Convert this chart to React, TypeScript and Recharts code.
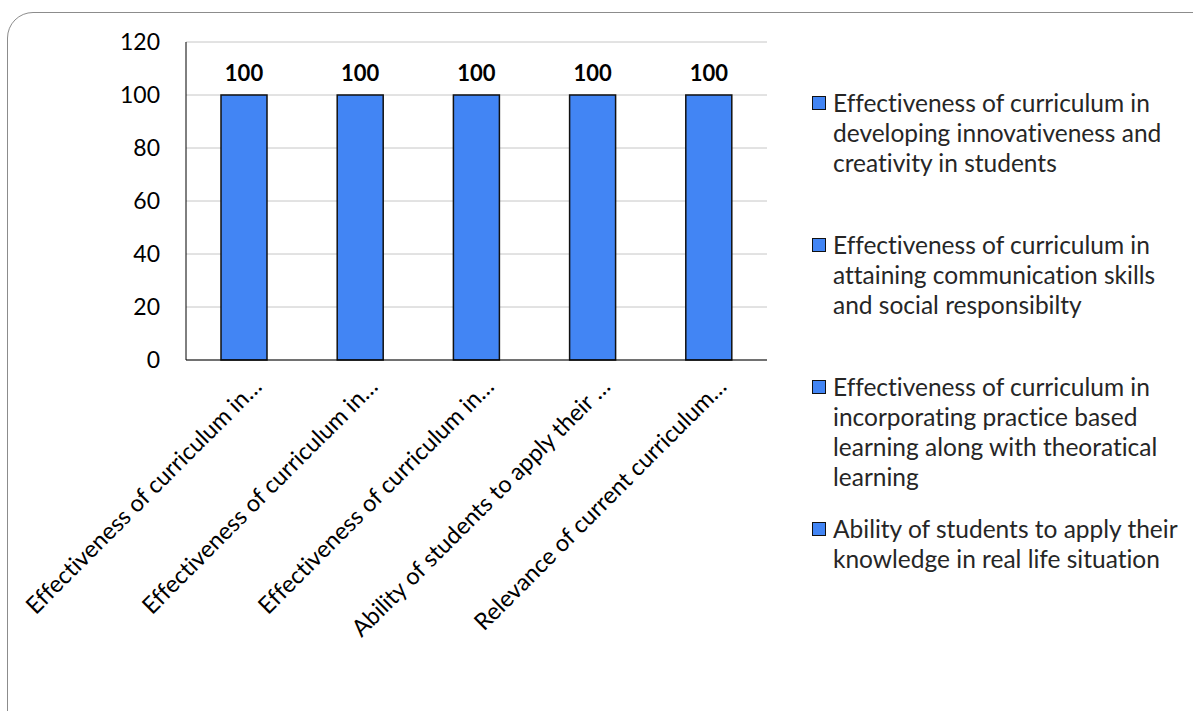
import { Bar, BarChart, CartesianGrid, LabelList, Legend, XAxis, YAxis } from "recharts";

const categories = [
  "Effectiveness of curriculum in developing innovativeness and creativity in students",
  "Effectiveness of curriculum in attaining communication skills and social responsibilty",
  "Effectiveness of curriculum in incorporating practice based learning along with theoratical learning",
  "Ability of students to apply their knowledge in real life situation",
  "Relevance of current curriculum",
];
const tickLabels = [
  "Effectiveness of curriculum in…",
  "Effectiveness of curriculum in…",
  "Effectiveness of curriculum in…",
  "Ability of students to apply their …",
  "Relevance of current curriculum…",
];
const values = [100, 100, 100, 100, 100];
const yTicks = [0, 20, 40, 60, 80, 100, 120];

// only the first four legend entries fit in the frame
const legendItems = categories.slice(0, 4);

const data = categories.map((name, i) => ({ name, label: tickLabels[i], value: values[i] }));

const FONT = "Lato, 'Open Sans', sans-serif";
const BLUE = "#4285F4";

function AngledTick(props: any) {
  const { x, y, payload } = props;
  const ax = x + 19;
  const ay = y + 20;
  return (
    <text
      x={ax}
      y={ay}
      transform={`rotate(-45, ${ax}, ${ay})`}
      textAnchor="end"
      fontFamily={FONT}
      fontSize={23.5}
      fill="#000"
      style={{ fontVariantLigatures: "none" }}
    >
      {tickLabels[payload.index] ?? payload.value}
    </text>
  );
}

function LegendBox() {
  return (
    <div
      style={{
        fontFamily: FONT,
        fontSize: 24.5,
        color: "#262626",
        lineHeight: "30px",
        fontVariantLigatures: "none",
      }}
    >
      {legendItems.map((name) => (
        <div key={name} style={{ display: "flex", alignItems: "flex-start", height: 142 }}>
          <span
            style={{
              width: 12,
              height: 12,
              marginTop: 8,
              marginRight: 7,
              background: BLUE,
              border: "1.5px solid #111",
              flexShrink: 0,
            }}
          />
          <span style={{ width: 358 }}>{name}</span>
        </div>
      ))}
    </div>
  );
}

export default function App() {
  return (
    <div
      style={{
        position: "fixed",
        left: 0,
        top: 0,
        width: 1193,
        height: 711,
        overflow: "hidden",
        background: "#fff",
      }}
    >
      <div
        style={{
          position: "absolute",
          left: 7,
          top: 12,
          width: 1260,
          height: 780,
          border: "1px solid #8c8c8c",
          borderRadius: 26,
        }}
      />
      <div style={{ position: "absolute", left: 0, top: 0 }}>
        <BarChart
          width={1193}
          height={711}
          data={data}
          margin={{ top: 42, right: 46, left: 126, bottom: 321 }}
        >
          <CartesianGrid vertical={false} stroke="#c6c6c6" strokeWidth={1} />
          <XAxis
            dataKey="name"
            interval={0}
            tick={<AngledTick />}
            tickLine={false}
            axisLine={{ stroke: "#000", strokeWidth: 1 }}
            height={30}
          />
          <YAxis
            domain={[0, 120]}
            ticks={yTicks}
            interval={0}
            tickLine={false}
            tickSize={0}
            tickMargin={26}
            axisLine={{ stroke: "#000", strokeWidth: 1 }}
            width={60}
            tick={{ fontFamily: FONT, fontSize: 23, fill: "#000" }}
          />
          <Legend
            layout="vertical"
            align="right"
            verticalAlign="top"
            content={() => <LegendBox />}
            wrapperStyle={{ left: 812, top: 88, width: 380 }}
          />
          <Bar
            dataKey="value"
            fill={BLUE}
            stroke="#111"
            strokeWidth={1.5}
            barSize={46}
            isAnimationActive={false}
          >
            <LabelList
              dataKey="value"
              position="top"
              offset={14}
              fontFamily={FONT}
              fontSize={22}
              fontWeight="bold"
              fill="#000"
            />
          </Bar>
        </BarChart>
      </div>
    </div>
  );
}
